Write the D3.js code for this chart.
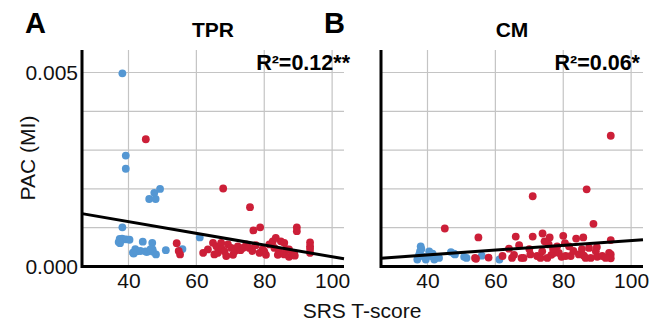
<!DOCTYPE html>
<html>
<head>
<meta charset="utf-8">
<script src="https://cdn.jsdelivr.net/npm/d3@7"></script>
<style>
  body { margin: 0; background: #fff; }
  text { font-family: "Liberation Sans", Arial, sans-serif; }
</style>
</head>
<body>
<div id="chart"></div>
<script>
// SRS T-score (x) vs PAC (MI) (y)
const tprLow = [
  [38.2, 0.00498], [39.2, 0.00286], [39.2, 0.00252], [46.1, 0.00174], [48.0, 0.00174],
  [47.6, 0.00190], [49.3, 0.00200], [38.2, 0.00101], [37.1, 0.00063], [37.4, 0.00071],
  [38.1, 0.00072], [38.6, 0.00070], [39.3, 0.00070], [40.3, 0.00069], [37.5, 0.00060],
  [44.2, 0.00064], [41.3, 0.00036], [41.5, 0.00033], [42.0, 0.00045], [42.5, 0.00039],
  [43.5, 0.00040], [45.0, 0.00039], [45.4, 0.00037], [47.0, 0.00061], [47.1, 0.00044],
  [47.2, 0.00038], [48.1, 0.00031], [46.5, 0.00045], [51.0, 0.00042], [55.9, 0.00045],
  [61.0, 0.00075]
]
const tprHigh = [
  [45.1, 0.00328], [67.9, 0.00201], [75.8, 0.00153], [76.8, 0.00093], [78.8, 0.00101],
  [89.6, 0.00101], [89.6, 0.00091], [93.5, 0.00062], [93.5, 0.00052], [93.5, 0.00045],
  [93.5, 0.00035], [54.2, 0.00060], [54.8, 0.00040], [55.2, 0.00031], [62.0, 0.00035],
  [63.4, 0.00044], [64.9, 0.00061], [65.3, 0.00031], [65.9, 0.00052], [66.3, 0.00035],
  [67.3, 0.00061], [67.5, 0.00045], [68.3, 0.00039], [68.8, 0.00027], [69.3, 0.00057],
  [70.3, 0.00048], [70.8, 0.00030], [71.3, 0.00039], [72.2, 0.00052], [73.0, 0.00042],
  [73.7, 0.00048], [74.7, 0.00057], [75.6, 0.00048], [76.5, 0.00040], [77.5, 0.00055],
  [78.6, 0.00035], [79.5, 0.00044], [80.0, 0.00039], [80.5, 0.00030], [81.5, 0.00057],
  [82.5, 0.00065], [83.0, 0.00048], [83.4, 0.00074], [84.0, 0.00030], [84.4, 0.00039],
  [84.9, 0.00065], [85.9, 0.00061], [85.9, 0.00031], [86.5, 0.00045], [87.3, 0.00044],
  [87.3, 0.00025], [88.3, 0.00031], [88.8, 0.00035], [89.0, 0.00028]
]
const cmLow = [
  [37.0, 0.00018], [37.5, 0.00030], [37.8, 0.00039], [38.0, 0.00052], [38.2, 0.00045],
  [39.0, 0.00025], [39.5, 0.00018], [40.5, 0.00039], [41.0, 0.00027], [41.5, 0.00033],
  [42.0, 0.00018], [43.4, 0.00022], [46.9, 0.00037], [47.8, 0.00033], [48.1, 0.00031],
  [50.8, 0.00025], [51.5, 0.00022], [56.0, 0.00028], [61.2, 0.00018]
]
const cmHigh = [
  [94.0, 0.00337], [86.9, 0.00199], [71.0, 0.00181], [88.9, 0.00110], [45.1, 0.00098],
  [55.0, 0.00075], [66.0, 0.00077], [71.0, 0.00077], [73.9, 0.00085], [76.0, 0.00075],
  [80.0, 0.00079], [83.8, 0.00072], [85.9, 0.00075], [94.0, 0.00068], [67.0, 0.00055],
  [64.0, 0.00046], [75.7, 0.00057], [78.2, 0.00052], [81.7, 0.00052], [87.6, 0.00048],
  [89.9, 0.00050], [89.6, 0.00039], [93.5, 0.00035], [94.0, 0.00031], [94.0, 0.00021],
  [54.0, 0.00022], [54.3, 0.00020], [58.0, 0.00023], [62.1, 0.00027], [64.9, 0.00022],
  [65.5, 0.00030], [67.7, 0.00022], [68.3, 0.00022], [70.3, 0.00031], [72.3, 0.00027],
  [73.3, 0.00022], [73.8, 0.00039], [75.3, 0.00022], [76.5, 0.00030], [77.3, 0.00035],
  [78.7, 0.00035], [79.5, 0.00025], [80.7, 0.00027], [82.2, 0.00027], [83.0, 0.00040],
  [84.6, 0.00031], [85.5, 0.00045], [86.1, 0.00028], [86.6, 0.00022], [88.1, 0.00022],
  [90.0, 0.00025], [91.5, 0.00027], [92.5, 0.00022], [70.0, 0.00045], [74.5, 0.00065],
  [80.5, 0.00060], [77.0, 0.00045]
]
// fitted lines: [intercept, slope]
const tprFit = [0.00176, -0.00001509]
const cmFit = [0.000051, 0.00000619]

const panelLetters = ['A', 'B']
const panelTitles = ['TPR', 'CM']
const r2Labels = ['0.12**', '0.06*']
const xTicks = [40, 60, 80, 100]
const yGrid = [0.001, 0.002, 0.003, 0.004, 0.005]
const yLabels = [0, 0.005]

const panels = [
  { low: tprLow, high: tprHigh, fit: tprFit, left: 82 },
  { low: cmLow, high: cmHigh, fit: cmFit, left: 381 }
]

const W = 658, H = 322
const plotTop = 50, plotBottom = 266.5, pw = 262
const blue = '#5497d3', red = '#cc1f38', grid = '#c4c4c4'
const font = '"Liberation Sans", Arial, sans-serif'

const svg = d3.select('#chart').append('svg')
  .attr('width', W).attr('height', H)

const y = d3.scaleLinear().domain([0, 0.00558]).range([plotBottom, plotTop])

panels.forEach(function(p, i) {
  const x = d3.scaleLinear().domain([26.3, 103.5]).range([p.left, p.left + pw])
  const g = svg.append('g')

  // grid
  g.selectAll('line.vg').data(xTicks).enter().append('line')
    .attr('x1', d => x(d)).attr('x2', d => x(d))
    .attr('y1', plotTop).attr('y2', plotBottom)
    .attr('stroke', grid).attr('stroke-width', 1.2)
  g.selectAll('line.hg').data(yGrid).enter().append('line')
    .attr('x1', p.left).attr('x2', p.left + pw)
    .attr('y1', d => y(d)).attr('y2', d => y(d))
    .attr('stroke', grid).attr('stroke-width', 1.2)

  // points
  g.selectAll('circle.lo').data(p.low).enter().append('circle')
    .attr('cx', d => x(d[0])).attr('cy', d => y(d[1]))
    .attr('r', 3.9).attr('fill', blue)
  g.selectAll('circle.hi').data(p.high).enter().append('circle')
    .attr('cx', d => x(d[0])).attr('cy', d => y(d[1]))
    .attr('r', 3.9).attr('fill', red)

  // fit line
  const x0 = x.domain()[0], x1 = x.domain()[1]
  g.append('line')
    .attr('x1', x(x0)).attr('y1', y(p.fit[0] + p.fit[1] * x0))
    .attr('x2', x(x1)).attr('y2', y(p.fit[0] + p.fit[1] * x1))
    .attr('stroke', '#000').attr('stroke-width', 3)

  // axis lines
  g.append('path')
    .attr('d', 'M' + p.left + ',' + plotTop + 'V' + plotBottom + 'H' + (p.left + pw))
    .attr('fill', 'none').attr('stroke', '#000').attr('stroke-width', 3)

  // x tick labels
  const xa = g.append('g')
    .attr('transform', 'translate(0,' + plotBottom + ')')
    .call(d3.axisBottom(x).tickValues(xTicks).tickSize(0).tickPadding(7))
  xa.select('.domain').remove()
  xa.selectAll('text').attr('font-size', 21).attr('fill', '#111')
    .attr('font-family', font)

  if (i === 0) {
    const ya = g.append('g')
      .attr('transform', 'translate(' + (p.left - 3) + ',0)')
      .call(d3.axisLeft(y).tickValues(yLabels).tickFormat(d3.format('.3f')).tickSize(0).tickPadding(1))
    ya.select('.domain').remove()
    ya.selectAll('text').attr('font-size', 21).attr('fill', '#111')
      .attr('font-family', font)
  }

  // letter
  g.append('text').attr('x', p.left - 57).attr('y', 33)
    .attr('font-size', 29).attr('font-weight', 'bold')
    .text(panelLetters[i])
  // title
  g.append('text').attr('x', p.left + 131).attr('y', 36.5)
    .attr('text-anchor', 'middle').attr('font-size', 21).attr('font-weight', 'bold')
    .text(panelTitles[i])
  // R squared
  g.append('text').attr('x', p.left + pw + (i === 0 ? 6 : -3)).attr('y', 70)
    .attr('text-anchor', 'end').attr('font-size', 21.5).attr('font-weight', 'bold')
    .text('R²=' + r2Labels[i])
})

// axis titles
svg.append('text')
  .attr('transform', 'translate(35,158) rotate(-90)')
  .attr('text-anchor', 'middle').attr('font-size', 21).attr('fill', '#111')
  .text('PAC (MI)')
svg.append('text')
  .attr('x', 362).attr('y', 318)
  .attr('text-anchor', 'middle').attr('font-size', 21).attr('fill', '#111')
  .text('SRS T-score')
</script>
</body>
</html>
